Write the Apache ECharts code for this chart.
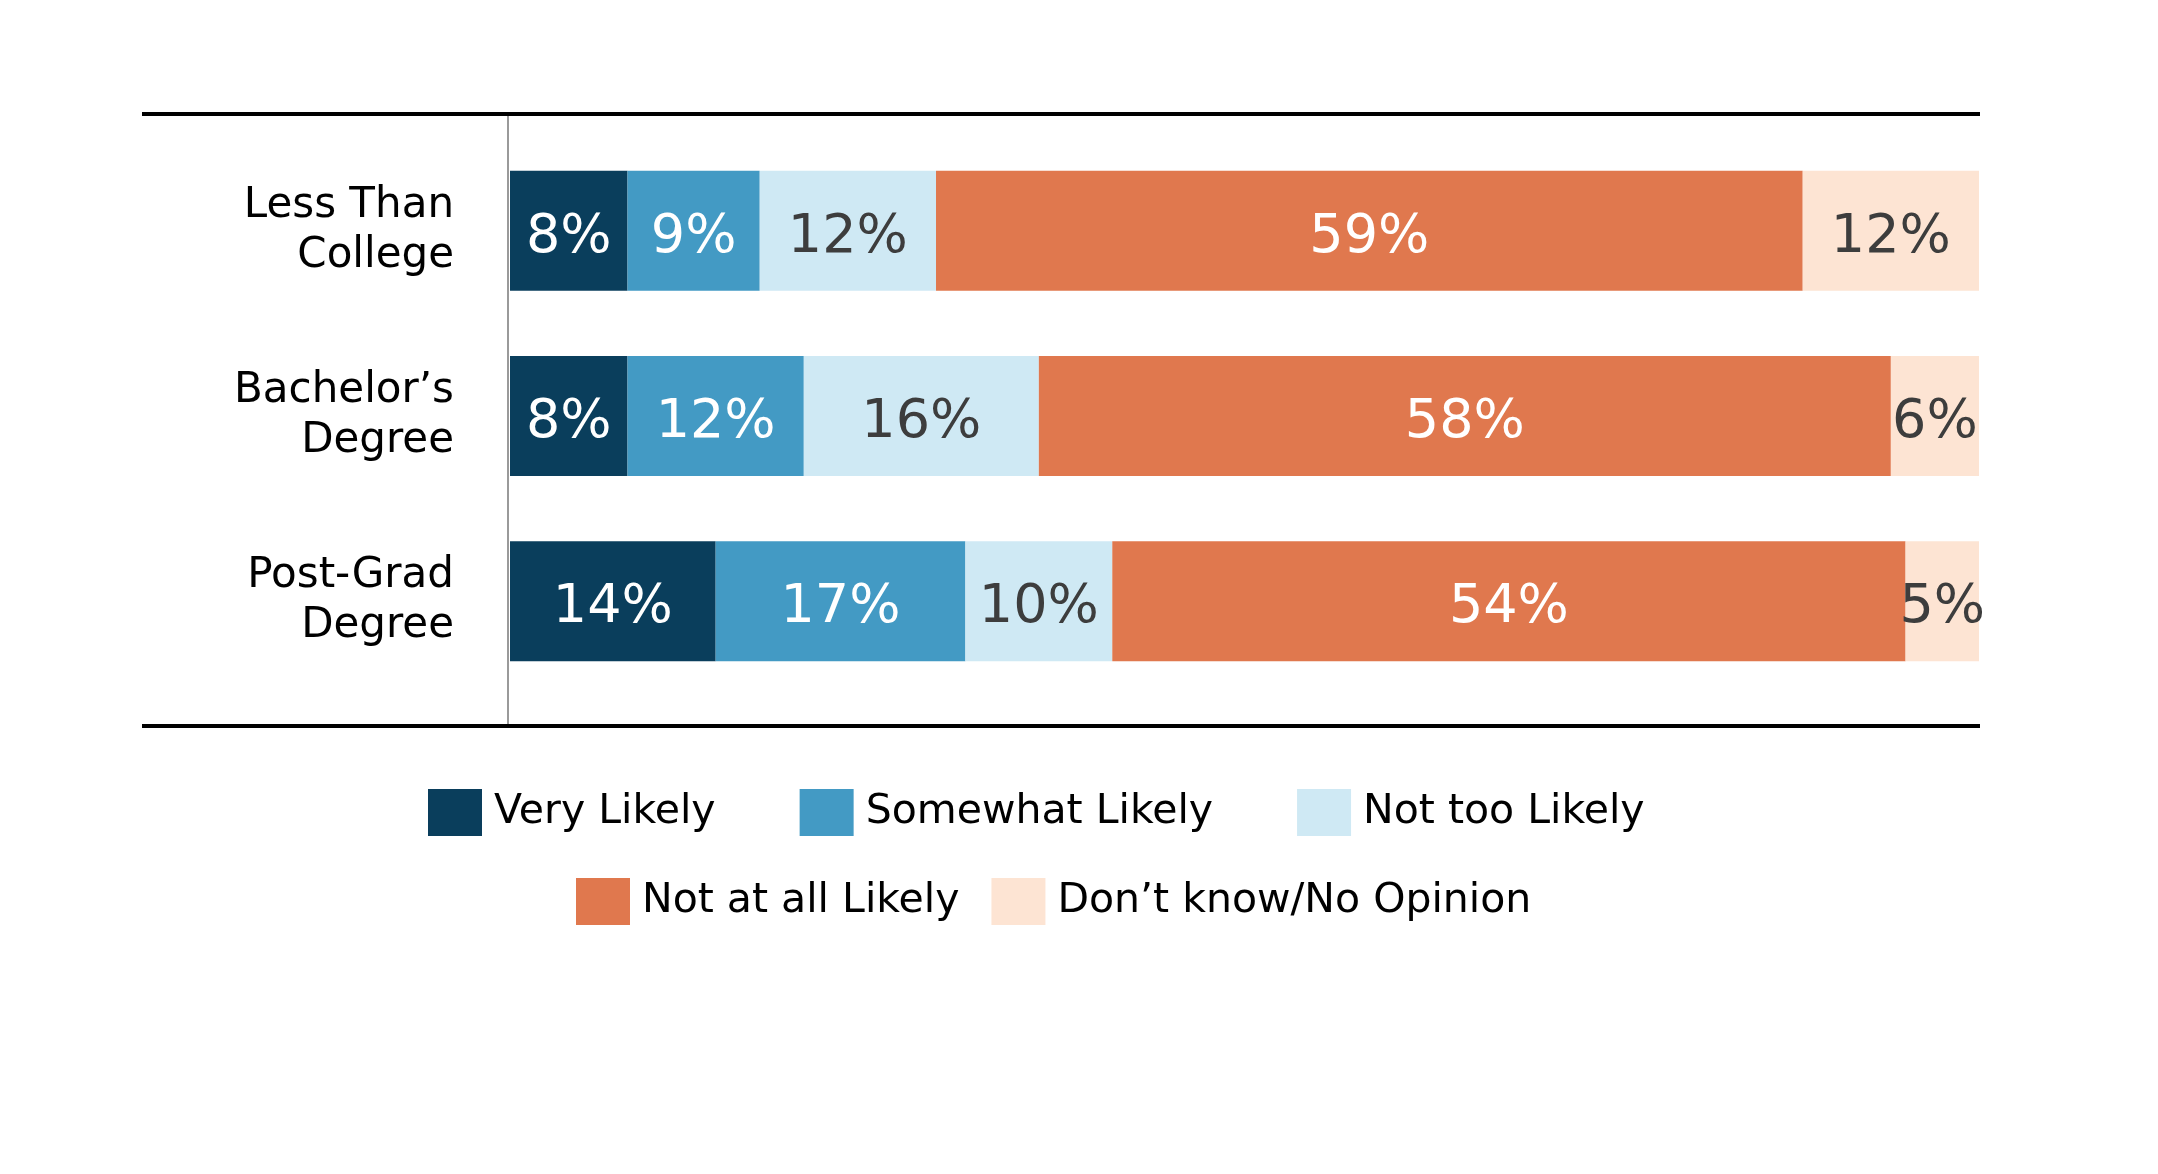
<!DOCTYPE html>
<html>
<head>
<meta charset="utf-8">
<title>Likelihood by education</title>
<script src="https://cdn.jsdelivr.net/npm/echarts@6/dist/echarts.min.js"></script>
<style>
  html, body { margin: 0; padding: 0; background: #fff; }
  #chart { width: 2158px; height: 1174px; }
</style>
</head>
<body>
<div id="chart"></div>
<script>
// categories, top to bottom
var categories = ['Less Than\nCollege', 'Bachelor\u2019s\nDegree', 'Post-Grad\nDegree'];

// answer groups
var answerNames = ['Very Likely', 'Somewhat Likely', 'Not too Likely', 'Not at all Likely', 'Don\u2019t know/No Opinion'];

// percent per category
var veryLikely = [8, 8, 14];
var somewhatLikely = [9, 12, 17];
var notTooLikely = [12, 16, 10];
var notAtAllLikely = [59, 58, 54];
var dontKnow = [12, 6, 5];

var values = [veryLikely, somewhatLikely, notTooLikely, notAtAllLikely, dontKnow];
var colors = ['#0a3e5c', '#439ac4', '#cfe9f4', '#e0784e', '#fde4d3'];
var labelColors = ['#ffffff', '#ffffff', '#3d3d3d', '#ffffff', '#3d3d3d'];

var font = 'DejaVu Sans';

var series = answerNames.map(function (name, i) {
    return {
        name: name,
        type: 'bar',
        stack: 'total',
        barWidth: 120,
        itemStyle: { color: colors[i] },
        label: {
            show: true,
            position: 'inside',
            offset: [0, 7],
            formatter: '{c}%',
            fontFamily: font,
            fontSize: 54,
            color: labelColors[i]
        },
        emphasis: { disabled: true },
        data: values[i]
    };
});

var legendText = { fontFamily: font, fontSize: 41, color: '#000', padding: [0, 0, 0, 7] };

var chart = echarts.init(document.getElementById('chart'));
chart.setOption({
    animation: false,
    textStyle: { fontFamily: font },
    grid: { left: 510, right: 179, top: 138, bottom: 480, containLabel: false },
    xAxis: {
        type: 'value',
        min: 0,
        max: 100,
        show: false
    },
    yAxis: {
        type: 'category',
        inverse: true,
        data: categories,
        axisLine: { show: false },
        axisTick: { show: false },
        axisLabel: {
            margin: 56,
            fontFamily: font,
            fontSize: 42,
            lineHeight: 50,
            color: '#000'
        }
    },
    legend: [{
        data: answerNames.slice(0, 3),
        top: 784,
        left: 423,
        icon: 'rect',
        itemWidth: 54,
        itemHeight: 47,
        itemGap: 84,
        textStyle: legendText
    }, {
        data: answerNames.slice(3),
        top: 873,
        left: 571,
        icon: 'rect',
        itemWidth: 54,
        itemHeight: 47,
        itemGap: 32,
        textStyle: legendText
    }],
    graphic: [
        { type: 'line', shape: { x1: 142, y1: 114, x2: 1980, y2: 114 }, style: { stroke: '#000', lineWidth: 4 } },
        { type: 'line', shape: { x1: 142, y1: 726, x2: 1980, y2: 726 }, style: { stroke: '#000', lineWidth: 4 } },
        { type: 'line', shape: { x1: 508, y1: 116, x2: 508, y2: 724 }, style: { stroke: '#9a9a9a', lineWidth: 2 } }
    ],
    series: series
});
</script>
</body>
</html>
